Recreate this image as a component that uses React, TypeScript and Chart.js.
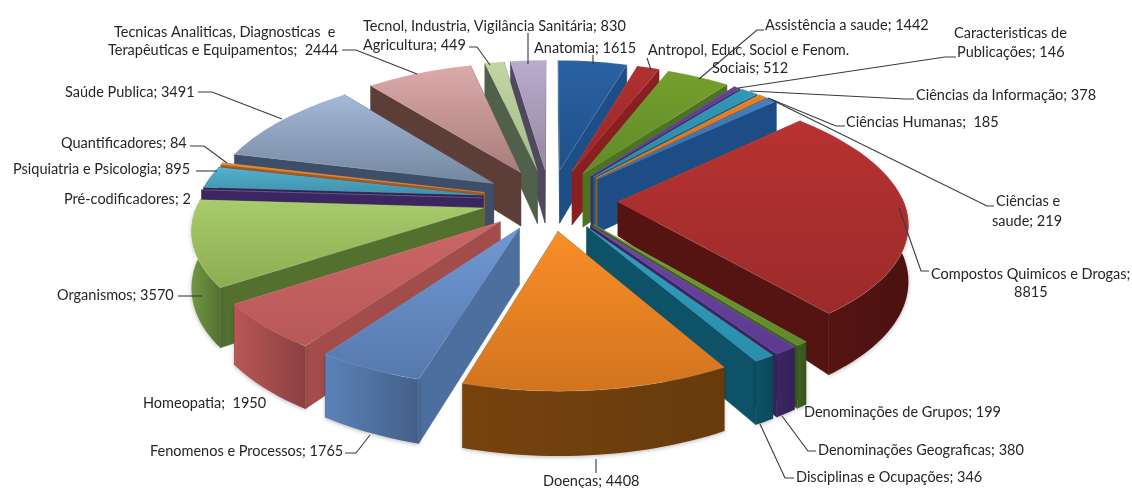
import React, { useEffect, useRef } from "react";
import { Chart, registerables } from "chart.js";

Chart.register(...registerables);

const categories = [
  "Anatomia", "Antropol, Educ, Sociol e Fenom. Sociais", "Assistência a saude", "Caracteristicas de Publicações",
  "Ciências da Informação", "Ciências Humanas", "Ciências e saude", "Compostos Quimicos e Drogas",
  "Denominações de Grupos", "Denominações Geograficas", "Disciplinas e Ocupações", "Doenças",
  "Fenomenos e Processos", "Homeopatia", "Organismos", "Pré-codificadores",
  "Psiquiatria e Psicologia", "Quantificadores", "Saúde Publica",
  "Tecnicas Analiticas, Diagnosticas e Terapêuticas e Equipamentos", "Agricultura",
  "Tecnol, Industria, Vigilância Sanitária",
];
const values = [1615, 512, 1442, 146, 378, 185, 219, 8815, 199, 380, 346, 4408, 1765, 1950, 3570, 2, 895, 84, 3491, 2444, 449, 830];

// Upper-face shading of each wedge, far edge first and near edge second.
const faceLight = [
  "#2b62a3", "#b03030", "#74a02e", "#64409a", "#3198b8", "#e3822a", "#4080c8", "#b83232",
  "#74a02e", "#6e46a4", "#2fa0c0", "#f98e28", "#7098d4", "#cc6666", "#a8cb6c", "#6e46a4",
  "#52b2cc", "#e8882c", "#a4b8d8", "#dcaaaa", "#c2d6a4", "#b9acce",
];
const faceDark = [
  "#1f5089", "#9c2626", "#608a28", "#553488", "#2a88a6", "#c87022", "#2f66a8", "#9c2a2a",
  "#608a28", "#5c3a90", "#2a8eac", "#d2741e", "#5679ad", "#b85858", "#8cad50", "#5c3a90",
  "#3e90ac", "#c87022", "#73879f", "#a87c7c", "#a4bc84", "#94889f",
];
// Straight cut faces of each wedge.
const cutColors = [
  "#1f4d85", "#8a1f1f", "#4d7222", "#3f2a6a", "#19607a", "#a85a16", "#1e4c84", "#551412",
  "#3f6020", "#3b2662", "#0e5268", "#6e3d0c", "#4c6f9f", "#a34c4c", "#54702f", "#3b2662",
  "#2b2450", "#a85a16", "#3f4e68", "#5c3d38", "#51604a", "#50485f",
];
// Curved rim of each wedge.
const rimColors = [
  "#1f4d85", "#8a1f1f", "#4d7222", "#3f2a6a", "#19607a", "#a85a16", "#1e4c84", "#551412",
  "#3f6020", "#3b2662", "#0e5268", "#76430e", "#5478aa", "#ac5050", "#6a8c3e", "#3b2662",
  "#2b2450", "#a85a16", "#3f4e68", "#5c3d38", "#51604a", "#50485f",
];
// Share of the disc thickness shown at the wedge's inner point.
const tipThickness = [1, 1, 1, 1, 1, 1, 1, 0.62, 1, 1, 1, 1, 1, 1, 1, 1, 1, 1, 1, 1, 1, 1];

// Each note: text lines with their left edge and centre height, then its leader polyline.
type Note = { lines: [string, number, number][]; leader?: [number, number][] };
const notes: Note[] = [
  { lines: [["Tecnol, Industria, Vigilância Sanitária; 830", 363, 26]], leader: [[528, 33], [528, 64]] },
  { lines: [["Agricultura; 449", 363, 45]], leader: [[469, 47], [477, 47], [490, 65]] },
  { lines: [["Anatomia; 1615", 534, 48]], leader: [[593, 55], [593, 64]] },
  { lines: [["Tecnicas Analiticas, Diagnosticas  e", 114, 32], ["Terapêuticas e Equipamentos;  2444", 108, 50]], leader: [[342, 50], [356, 50], [417, 74]] },
  { lines: [["Saúde Publica; 3491", 65, 92]], leader: [[198, 92], [212, 92], [282, 119]] },
  { lines: [["Quantificadores; 84", 61, 143]], leader: [[190, 146], [204, 146], [227, 163]] },
  { lines: [["Psiquiatria e Psicologia; 895", 13, 169]], leader: [[196, 171], [217, 171]] },
  { lines: [["Pré-codificadores; 2", 64, 199]] },
  { lines: [["Organismos; 3570", 57, 295]], leader: [[178, 296], [202, 296]] },
  { lines: [["Homeopatia;  1950", 143, 403]] },
  { lines: [["Fenomenos e Processos; 1765", 150, 451]], leader: [[345, 453], [356, 453], [370, 435]] },
  { lines: [["Doenças; 4408", 543, 481]], leader: [[596, 473], [596, 459]] },
  { lines: [["Disciplinas e Ocupações; 346", 796, 477]], leader: [[794, 478], [785, 478], [760, 424]] },
  { lines: [["Denominações Geograficas; 380", 818, 450]], leader: [[816, 451], [808, 451], [782, 416]] },
  { lines: [["Denominações de Grupos; 199", 804, 412]] },
  { lines: [["Compostos Quimicos e Drogas;", 931, 274], ["8815", 1014, 292]], leader: [[929, 271], [921, 271], [899, 208]] },
  { lines: [["Ciências e", 996, 201], ["saude; 219", 992, 221]], leader: [[994, 206], [987, 206], [772, 100]] },
  { lines: [["Ciências Humanas;  185", 846, 122]], leader: [[845, 126], [836, 126], [768, 98]] },
  { lines: [["Ciências da Informação; 378", 916, 95]], leader: [[914, 99], [905, 99], [750, 91]] },
  { lines: [["Caracteristicas de", 954, 33], ["Publicações; 146", 957, 52]], leader: [[956, 57], [945, 57], [738, 88]] },
  { lines: [["Assistência a saude; 1442", 765, 25]], leader: [[764, 30], [757, 30], [699, 79]] },
  { lines: [["Antropol, Educ, Sociol e Fenom.", 648, 50], ["Sociais; 512", 712, 68]], leader: [[647, 58], [651, 70]] },
];

// View of the tilted disc. The vertical placement follows a cubic in the depth coordinate
// so the far side stays compressed and the near side flattens out, as a wide lens would.
const view = { cx: 550, rx: 285, spreadX: 0.15, cy: 199.7, y1: 129.6, y2: 17, y3: 2.7, depth: 55, depthGrow: 8 };

type Pt = { x: number; y: number };
function project(wx: number, wy: number, drop: number): Pt {
  return {
    x: view.cx + view.rx * wx * (1 + view.spreadX * wy),
    y:
      view.cy +
      view.y1 * wy +
      view.y2 * wy * wy +
      view.y3 * wy * wy * wy +
      drop * (view.depth + view.depthGrow * wy),
  };
}

function tracePath(ctx: CanvasRenderingContext2D, pts: Pt[]) {
  ctx.beginPath();
  pts.forEach((p, i) => (i ? ctx.lineTo(p.x, p.y) : ctx.moveTo(p.x, p.y)));
  ctx.closePath();
}

function tint(hex: string, f: number) {
  const n = parseInt(hex.slice(1), 16);
  const ch = (v: number) => Math.max(0, Math.min(255, Math.round(v * f)));
  return `rgb(${ch((n >> 16) & 255)},${ch((n >> 8) & 255)},${ch(n & 255)})`;
}

function drawWedge(ctx: CanvasRenderingContext2D, arc: any, i: number) {
  const { startAngle, endAngle, outerRadius } = arc;
  const mid = (startAngle + endAngle) / 2;
  const burst = arc.options.offset / outerRadius;
  const ox = Math.cos(mid) * burst;
  const oy = Math.sin(mid) * burst;
  const rim = (a: number) => [ox + Math.cos(a), oy + Math.sin(a)] as const;
  const steps = Math.max(2, Math.ceil((endAngle - startAngle) / 0.03));
  const angles = Array.from({ length: steps + 1 }, (_, k) => startAngle + ((endAngle - startAngle) * k) / steps);

  const tipTop = project(ox, oy, 0);
  const tipLow = project(ox, oy, tipThickness[i]);
  const cut = (a: number) => {
    const [x, y] = rim(a);
    return [tipTop, project(x, y, 0), project(x, y, 1), tipLow];
  };

  // Cut faces, the one turned away from the viewer first.
  const faces = [
    { a: startAngle, n: Math.sin(startAngle - Math.PI / 2) },
    { a: endAngle, n: Math.sin(endAngle + Math.PI / 2) },
  ].sort((p, q) => p.n - q.n);
  for (const f of faces) {
    tracePath(ctx, cut(f.a));
    ctx.fillStyle = cutColors[i];
    ctx.fill();
    ctx.strokeStyle = cutColors[i];
    ctx.lineWidth = 0.5;
    ctx.stroke();
  }

  // Curved rim, only the part that faces the viewer.
  const front = angles.filter((a) => Math.sin(a) > -0.04);
  if (front.length > 1) {
    const upper = front.map((a) => project(rim(a)[0], rim(a)[1], 0));
    const lower = front.map((a) => project(rim(a)[0], rim(a)[1], 1));
    const xs = upper.map((p) => p.x);
    const g = ctx.createLinearGradient(Math.min(...xs), 0, Math.max(...xs), 0);
    const leftLit = Math.cos(mid) < 0;
    g.addColorStop(0, tint(rimColors[i], leftLit ? 1.08 : 1.0));
    g.addColorStop(1, tint(rimColors[i], leftLit ? 0.8 : 0.88));
    tracePath(ctx, [...upper, ...lower.reverse()]);
    ctx.save();
    ctx.shadowColor = "rgba(0,0,0,0.28)";
    ctx.shadowBlur = 4;
    ctx.shadowOffsetY = 1;
    ctx.fillStyle = g;
    ctx.fill();
    ctx.restore();
  }

  // Upper face.
  const topRim = angles.map((a) => project(rim(a)[0], rim(a)[1], 0));
  const ys = [tipTop, ...topRim].map((p) => p.y);
  const shade = ctx.createLinearGradient(0, Math.min(...ys), 0, Math.max(...ys));
  shade.addColorStop(0, faceLight[i]);
  shade.addColorStop(1, faceDark[i]);
  tracePath(ctx, [tipTop, ...topRim]);
  ctx.fillStyle = shade;
  ctx.fill();
  ctx.strokeStyle = "rgba(255,255,255,0.12)";
  ctx.lineWidth = 1;
  ctx.stroke();
}

const tiltedPie = {
  id: "tiltedPie",
  beforeDatasetDraw(chart: any, args: any) {
    const ctx: CanvasRenderingContext2D = chart.ctx;
    const arcs = args.meta.data
      .map((arc: any, i: number) => ({ arc, i, d: Math.sin((arc.startAngle + arc.endAngle) / 2) }))
      .sort((a: any, b: any) => a.d - b.d);
    ctx.save();
    ctx.lineJoin = "round";
    for (const { arc, i } of arcs) drawWedge(ctx, arc, i);
    ctx.restore();
    return false;
  },
  afterDraw(chart: any) {
    const ctx: CanvasRenderingContext2D = chart.ctx;
    ctx.save();
    ctx.font = '14.5px Lato, "Noto Sans", sans-serif';
    ctx.fillStyle = "#262626";
    ctx.strokeStyle = "#3a3a3a";
    ctx.lineWidth = 1.1;
    ctx.textBaseline = "middle";
    ctx.textAlign = "left";
    for (const note of notes) {
      for (const [text, x, y] of note.lines) ctx.fillText(text, x, y);
      if (note.leader) {
        ctx.beginPath();
        note.leader.forEach(([x, y], k) => (k ? ctx.lineTo(x, y) : ctx.moveTo(x, y)));
        ctx.stroke();
      }
    }
    ctx.restore();
  },
};

export default function App() {
  const ref = useRef<HTMLCanvasElement>(null);
  useEffect(() => {
    const chart = new Chart(ref.current!, {
      type: "pie",
      data: {
        labels: categories,
        datasets: [{ data: values, backgroundColor: faceLight, borderWidth: 0, offset: 52 }],
      },
      options: {
        animation: false,
        responsive: false,
        rotation: 0,
        plugins: { legend: { display: false }, tooltip: { enabled: false } },
      },
      plugins: [tiltedPie],
    } as any);
    return () => chart.destroy();
  }, []);
  return (
    <canvas
      ref={ref}
      width={1132}
      height={488}
      style={{ position: "absolute", left: 0, top: 0, display: "block", background: "#fff" }}
    />
  );
}
